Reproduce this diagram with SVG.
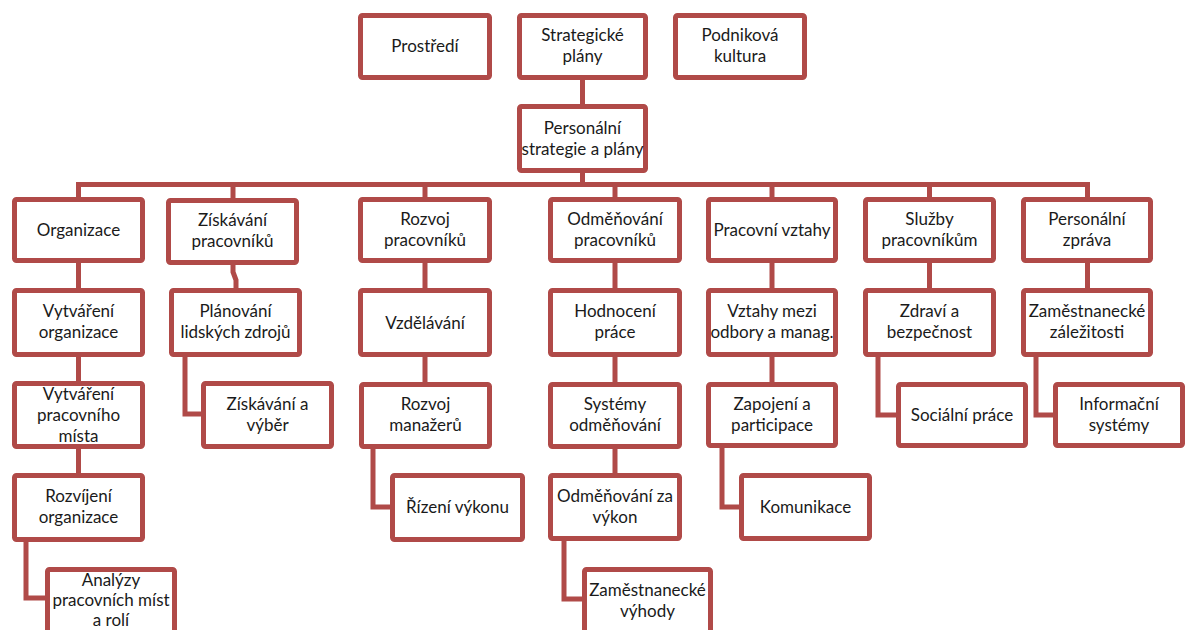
<svg xmlns="http://www.w3.org/2000/svg" width="1187" height="630" viewBox="0 0 1187 630">
<style>
.b{fill:#ffffff;stroke:#b04a48;stroke-width:5;}
.c{fill:none;stroke:#b04a48;stroke-width:5;stroke-linejoin:miter;}
text{font-family:Lato,"Liberation Sans",sans-serif;font-size:17px;fill:#1a1a1a;text-anchor:middle;}
</style>
<rect width="1187" height="630" fill="#ffffff"/>
<g id="connectors">
<path class="c" d="M582.5,78 V106"/>
<path class="c" d="M582.5,171 V184.5"/>
<path class="c" d="M78.5,199 V184.5 H1087.5 V199"/>
<path class="c" d="M233,184.5 V199"/>
<path class="c" d="M425,184.5 V199"/>
<path class="c" d="M615,184.5 V199"/>
<path class="c" d="M772,184.5 V199"/>
<path class="c" d="M929.5,184.5 V199"/>
<path class="c" d="M78.5,261 V290 M78.5,355 V383 M78.5,447 V475"/>
<path class="c" d="M233,263 V272 L236,280 V290"/>
<path class="c" d="M185,355 V414 H203"/>
<path class="c" d="M425,261 V290 M425,355 V384"/>
<path class="c" d="M373,447 V507 H392"/>
<path class="c" d="M615,261 V290 M615,355 V384 M615,447 V475"/>
<path class="c" d="M772,261 V290 M772,355 V384"/>
<path class="c" d="M722,446 V507 H741"/>
<path class="c" d="M929.5,261 V290"/>
<path class="c" d="M878,355 V415 H898"/>
<path class="c" d="M1087.5,261 V290"/>
<path class="c" d="M1036,355 V415 H1055"/>
<path class="c" d="M26,540 V598 H47"/>
<path class="c" d="M564,539 V599 H584"/>
</g>
<g id="prostredi"><rect class="b" x="360.5" y="15.5" width="129" height="62" rx="2"/><text x="425" y="52">Prostředí</text></g>
<g id="strategicke"><rect class="b" x="519.5" y="15.5" width="126" height="62" rx="2"/><text x="582.5" y="41">Strategické</text><text x="582.5" y="62">plány</text></g>
<g id="podnikova"><rect class="b" x="675.5" y="15.5" width="129" height="62" rx="2"/><text x="740" y="41">Podniková</text><text x="740" y="62">kultura</text></g>
<g id="personalni-strategie"><rect class="b" x="519.5" y="106.5" width="126" height="64" rx="2"/><text x="582.5" y="134">Personální</text><text x="582.5" y="155">strategie a plány</text></g>

<g id="organizace"><rect class="b" x="14.5" y="199.5" width="128" height="61" rx="2"/><text x="78.5" y="236">Organizace</text></g>
<g id="ziskavani-pracovniku"><rect class="b" x="168.5" y="200.5" width="128" height="62" rx="2"/><text x="232.5" y="226">Získávání</text><text x="232.5" y="247">pracovníků</text></g>
<g id="rozvoj-pracovniku"><rect class="b" x="360.5" y="199.5" width="129" height="61" rx="2"/><text x="425" y="225">Rozvoj</text><text x="425" y="246">pracovníků</text></g>
<g id="odmenovani-pracovniku"><rect class="b" x="550.5" y="199.5" width="129" height="61" rx="2"/><text x="615" y="225">Odměňování</text><text x="615" y="246">pracovníků</text></g>
<g id="pracovni-vztahy"><rect class="b" x="708.5" y="199.5" width="127" height="61" rx="2"/><text x="772" y="236">Pracovní vztahy</text></g>
<g id="sluzby"><rect class="b" x="865.5" y="199.5" width="128" height="61" rx="2"/><text x="929.5" y="225">Služby</text><text x="929.5" y="246">pracovníkům</text></g>
<g id="personalni-zprava"><rect class="b" x="1023.5" y="199.5" width="127" height="61" rx="2"/><text x="1087" y="225">Personální</text><text x="1087" y="246">zpráva</text></g>

<g id="vytvareni-organizace"><rect class="b" x="14.5" y="290.5" width="128" height="64" rx="2"/><text x="78.5" y="317">Vytváření</text><text x="78.5" y="338">organizace</text></g>
<g id="planovani"><rect class="b" x="171.5" y="290.5" width="128" height="64" rx="2"/><text x="235.5" y="317">Plánování</text><text x="235.5" y="338">lidských zdrojů</text></g>
<g id="vzdelavani"><rect class="b" x="360.5" y="290.5" width="129" height="64" rx="2"/><text x="425" y="329">Vzdělávání</text></g>
<g id="hodnoceni-prace"><rect class="b" x="550.5" y="290.5" width="129" height="64" rx="2"/><text x="615" y="317">Hodnocení</text><text x="615" y="338">práce</text></g>
<g id="vztahy-mezi"><rect class="b" x="708.5" y="290.5" width="127" height="64" rx="2"/><text x="772" y="317">Vztahy mezi</text><text x="772" y="338">odbory a manag.</text></g>
<g id="zdravi"><rect class="b" x="865.5" y="290.5" width="128" height="64" rx="2"/><text x="929.5" y="317">Zdraví a</text><text x="929.5" y="338">bezpečnost</text></g>
<g id="zamestnanecke-zalezitosti"><rect class="b" x="1023.5" y="290.5" width="127" height="64" rx="2"/><text x="1087" y="317">Zaměstnanecké</text><text x="1087" y="338">záležitosti</text></g>

<g id="vytvareni-mista"><rect class="b" x="14.5" y="383.5" width="128" height="63" rx="2"/><text x="78.5" y="400">Vytváření</text><text x="78.5" y="421">pracovního</text><text x="78.5" y="442">místa</text></g>
<g id="ziskavani-vyber"><rect class="b" x="203.5" y="383.5" width="128" height="63" rx="2"/><text x="267.5" y="410">Získávání a</text><text x="267.5" y="431">výběr</text></g>
<g id="rozvoj-manazeru"><rect class="b" x="361.5" y="384.5" width="128" height="62" rx="2"/><text x="425.5" y="410">Rozvoj</text><text x="425.5" y="431">manažerů</text></g>
<g id="systemy-odmenovani"><rect class="b" x="550.5" y="384.5" width="129" height="62" rx="2"/><text x="615" y="410">Systémy</text><text x="615" y="431">odměňování</text></g>
<g id="zapojeni"><rect class="b" x="708.5" y="384.5" width="127" height="61" rx="2"/><text x="772" y="410">Zapojení a</text><text x="772" y="431">participace</text></g>
<g id="socialni-prace"><rect class="b" x="898.5" y="384.5" width="127" height="61" rx="2"/><text x="962" y="421">Sociální práce</text></g>
<g id="informacni-systemy"><rect class="b" x="1055.5" y="384.5" width="127" height="61" rx="2"/><text x="1119" y="410">Informační</text><text x="1119" y="431">systémy</text></g>

<g id="rozvijeni-organizace"><rect class="b" x="14.5" y="475.5" width="128" height="64" rx="2"/><text x="78.5" y="502">Rozvíjení</text><text x="78.5" y="523">organizace</text></g>
<g id="rizeni-vykonu"><rect class="b" x="392.5" y="475.5" width="130" height="64" rx="2"/><text x="457.5" y="513">Řízení výkonu</text></g>
<g id="odmenovani-za-vykon"><rect class="b" x="550.5" y="475.5" width="129" height="63" rx="2"/><text x="615" y="502">Odměňování za</text><text x="615" y="523">výkon</text></g>
<g id="komunikace"><rect class="b" x="741.5" y="475.5" width="128" height="63" rx="2"/><text x="805.5" y="513">Komunikace</text></g>

<g id="analyzy"><rect class="b" x="47.5" y="569.5" width="127" height="64" rx="2"/><text x="111" y="586">Analýzy</text><text x="111" y="606">pracovních míst</text><text x="111" y="626">a rolí</text></g>
<g id="zamestnanecke-vyhody"><rect class="b" x="584.5" y="569.5" width="126" height="64" rx="2"/><text x="647.5" y="596">Zaměstnanecké</text><text x="647.5" y="617">výhody</text></g>
</svg>
